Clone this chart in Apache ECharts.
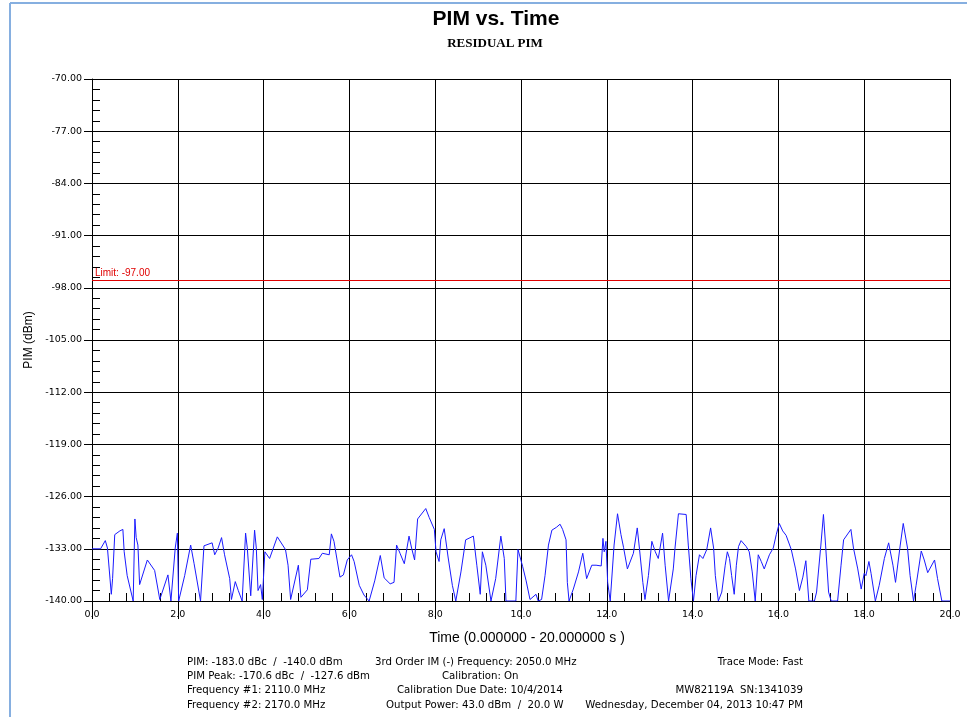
<!DOCTYPE html>
<html>
<head>
<meta charset="utf-8">
<script src="https://cdn.jsdelivr.net/npm/echarts@6/dist/echarts.min.js"></script>
<style>
  html, body { margin: 0; padding: 0; background: #ffffff; }
  #chart { width: 967px; height: 717px; }
</style>
</head>
<body>
<div id="chart"></div>
<script>
// Residual PIM trace, seconds vs dBm
const times = [
  0.00, 0.20, 0.31, 0.36, 0.45, 0.48, 0.53, 0.65, 0.72, 0.75, 0.82, 0.96, 1.00, 1.03, 1.07, 1.11,
  1.29, 1.46, 1.58, 1.77, 1.84, 1.94, 1.99, 2.02, 2.16, 2.30, 2.38, 2.53, 2.61, 2.80, 2.86, 2.94,
  3.02, 3.09, 3.21, 3.25, 3.34, 3.41, 3.50, 3.58, 3.62, 3.70, 3.79, 3.83, 3.87, 3.93, 3.97, 4.03,
  4.07, 4.14, 4.32, 4.51, 4.57, 4.63, 4.81, 4.87, 5.02, 5.10, 5.29, 5.37, 5.53, 5.58, 5.64, 5.78,
  5.86, 5.95, 6.05, 6.11, 6.23, 6.34, 6.46, 6.59, 6.72, 6.81, 6.95, 7.04, 7.10, 7.18, 7.28, 7.39,
  7.45, 7.52, 7.59, 7.78, 7.86, 7.98, 8.02, 8.09, 8.13, 8.21, 8.30, 8.40, 8.48, 8.60, 8.71, 8.89,
  8.97, 9.05, 9.10, 9.18, 9.30, 9.41, 9.53, 9.61, 9.65, 9.88, 9.93, 10.04, 10.12, 10.21, 10.35, 10.40,
  10.48, 10.56, 10.64, 10.72, 10.83, 10.91, 10.97, 11.05, 11.08, 11.12, 11.22, 11.34, 11.44, 11.53, 11.65, 11.75,
  11.87, 11.91, 11.94, 11.98, 12.02, 12.08, 12.17, 12.25, 12.33, 12.39, 12.48, 12.62, 12.71, 12.76, 12.84, 12.89,
  12.97, 13.05, 13.13, 13.20, 13.30, 13.36, 13.44, 13.55, 13.59, 13.67, 13.85, 13.90, 13.96, 14.02, 14.08, 14.16,
  14.24, 14.33, 14.42, 14.49, 14.53, 14.60, 14.68, 14.76, 14.81, 14.86, 14.91, 14.97, 15.02, 15.07, 15.13, 15.25,
  15.32, 15.39, 15.46, 15.53, 15.60, 15.67, 15.79, 15.88, 15.95, 16.02, 16.10, 16.18, 16.30, 16.40, 16.49, 16.57,
  16.64, 16.71, 16.84, 16.89, 16.99, 17.05, 17.10, 17.17, 17.23, 17.38, 17.46, 17.52, 17.69, 17.75, 17.85, 17.93,
  18.00, 18.04, 18.11, 18.16, 18.26, 18.35, 18.47, 18.57, 18.67, 18.73, 18.84, 18.91, 19.01, 19.07, 19.15, 19.21,
  19.33, 19.40, 19.48, 19.64, 19.71, 19.81, 20.00
];
const pimDbm = [
  -133.0, -133.0, -131.9, -132.9, -139.1, -137.0, -131.1, -130.6, -130.4, -133.4, -136.6, -140.0, -129.0, -131.5, -132.5, -137.8,
  -134.5, -135.9, -139.8, -136.5, -140.0, -132.9, -130.9, -140.0, -136.6, -132.5, -135.0, -140.0, -132.6, -132.2, -133.8, -132.9,
  -131.5, -133.8, -137.0, -139.8, -137.4, -138.6, -140.0, -130.9, -132.9, -139.3, -130.5, -132.9, -138.6, -137.8, -139.8, -133.4,
  -133.3, -134.3, -131.4, -133.1, -135.2, -139.8, -135.2, -139.5, -138.5, -134.4, -134.3, -133.6, -133.8, -131.0, -132.0, -136.8,
  -136.5, -134.5, -133.8, -134.7, -137.9, -139.2, -140.0, -137.3, -133.9, -136.9, -137.7, -137.5, -132.5, -133.6, -135.0, -131.3,
  -132.9, -134.5, -129.0, -127.6, -128.8, -130.4, -133.4, -134.7, -131.8, -130.3, -134.1, -137.9, -140.0, -136.1, -131.8, -131.3,
  -135.2, -139.1, -133.4, -135.2, -140.0, -137.0, -131.3, -134.3, -140.0, -140.0, -133.1, -135.4, -137.3, -139.8, -139.1, -140.0,
  -139.8, -136.6, -132.5, -130.5, -130.1, -129.7, -130.4, -131.8, -137.5, -140.0, -138.4, -136.1, -133.6, -137.0, -135.2, -135.2,
  -135.3, -131.6, -133.4, -132.0, -137.5, -140.0, -132.5, -128.3, -131.1, -132.8, -135.7, -133.6, -130.2, -132.9, -137.5, -139.8,
  -136.6, -132.0, -133.4, -134.3, -130.9, -135.2, -140.0, -135.7, -132.9, -128.3, -128.4, -132.5, -137.0, -140.0, -136.6, -133.8,
  -134.3, -133.1, -130.2, -132.9, -136.6, -140.0, -138.8, -135.2, -133.4, -134.3, -136.6, -139.1, -135.2, -132.7, -131.9, -132.7,
  -133.4, -136.1, -140.0, -133.8, -134.7, -135.7, -133.8, -132.9, -131.1, -129.6, -130.6, -131.2, -133.1, -135.7, -138.6, -136.8,
  -134.6, -140.0, -140.0, -138.8, -132.5, -128.4, -132.5, -138.8, -140.0, -140.0, -135.2, -131.8, -130.4, -132.9, -135.7, -138.4,
  -136.3, -136.6, -134.7, -136.3, -140.0, -137.9, -134.3, -132.2, -135.2, -137.5, -132.5, -129.6, -132.9, -136.6, -140.0, -137.9,
  -133.3, -134.5, -136.2, -134.5, -137.0, -140.0, -140.0
];
const limitDbm = -97.0;

// Measurement summary printed under the plot
const infoLeft = [
  'PIM: -183.0 dBc  /  -140.0 dBm',
  'PIM Peak: -170.6 dBc  /  -127.6 dBm',
  'Frequency #1: 2110.0 MHz',
  'Frequency #2: 2170.0 MHz'
];
const infoMiddle = [
  '3rd Order IM (-) Frequency: 2050.0 MHz',
  'Calibration: On',
  'Calibration Due Date: 10/4/2014',
  'Output Power: 43.0 dBm  /  20.0 W'
];
const infoRight = [
  'Trace Mode: Fast',
  '',
  'MW82119A  SN:1341039',
  'Wednesday, December 04, 2013 10:47 PM'
];

const FONT = '"Liberation Sans", Arial, sans-serif';
const SMALL = '"DejaVu Sans", Verdana, sans-serif';
const chart = echarts.init(document.getElementById('chart'));

const rowY = [662, 676, 690, 705];
const middleX = [375, 442, 397, 386];
const infoFont = '10.2px ' + SMALL;
const infoText = [];
rowY.forEach((y, i) => {
  infoText.push({ type: 'text', x: 187, y: y, style: { text: infoLeft[i], font: infoFont, fill: '#000', textVerticalAlign: 'middle' } });
  infoText.push({ type: 'text', x: middleX[i], y: y, style: { text: infoMiddle[i], font: infoFont, fill: '#000', textVerticalAlign: 'middle' } });
  if (infoRight[i]) {
    infoText.push({ type: 'text', x: 803, y: y, style: { text: infoRight[i], font: infoFont, fill: '#000', textAlign: 'right', textVerticalAlign: 'middle' } });
  }
});

const gridBox = { left: 92, right: 17, top: 79, bottom: 116 };

chart.setOption({
  animation: false,
  backgroundColor: '#ffffff',
  graphic: [
    { type: 'line', shape: { x1: 10, y1: 3, x2: 967, y2: 3 }, style: { stroke: '#86afe0', lineWidth: 2 } },
    { type: 'line', shape: { x1: 10, y1: 3, x2: 10, y2: 717 }, style: { stroke: '#86afe0', lineWidth: 2 } },
    { type: 'text', x: 496, y: 19, style: { text: 'PIM vs. Time', font: 'bold 21px ' + FONT, fill: '#000', textAlign: 'center', textVerticalAlign: 'middle' } },
    { type: 'text', x: 495, y: 44, style: { text: 'RESIDUAL PIM', font: 'bold 13px "Liberation Serif", "Times New Roman", serif', fill: '#000', textAlign: 'center', textVerticalAlign: 'middle' } },
    ...infoText
  ],
  grid: [
    Object.assign({}, gridBox),
    Object.assign({}, gridBox)
  ],
  xAxis: [
    {
      type: 'value', gridIndex: 0, min: 0, max: 20, interval: 2,
      name: 'Time (0.000000 - 20.000000 s )', nameLocation: 'middle', nameGap: 30,
      nameTextStyle: { fontFamily: FONT, fontSize: 14, color: '#000', padding: [0, 0, 0, 12] },
      axisLine: { show: true, lineStyle: { color: '#000', width: 1 } },
      axisTick: { show: true, inside: false, length: 18, lineStyle: { color: '#000' } },
      axisLabel: { show: true, margin: 9, color: '#000', fontFamily: SMALL, fontSize: 9.5, formatter: v => v.toFixed(1) },
      splitLine: { show: true, lineStyle: { color: '#000', width: 1 } }
    },
    {
      type: 'value', gridIndex: 1, min: 0, max: 20, interval: 0.4,
      axisLine: { show: false },
      axisTick: { show: true, inside: true, length: 8, lineStyle: { color: '#000' } },
      axisLabel: { show: false },
      splitLine: { show: false }
    }
  ],
  yAxis: [
    {
      type: 'value', gridIndex: 0, min: -140, max: -70, interval: 7,
      name: 'PIM (dBm)', nameLocation: 'middle', nameGap: 56, nameRotate: 90,
      nameTextStyle: { fontFamily: FONT, fontSize: 12, color: '#000' },
      axisLine: { show: true, lineStyle: { color: '#000', width: 1 } },
      axisTick: { show: true, inside: false, length: 8, lineStyle: { color: '#000' } },
      axisLabel: { show: true, margin: 10, color: '#000', fontFamily: SMALL, fontSize: 9.5, formatter: v => v.toFixed(2) },
      splitLine: { show: true, lineStyle: { color: '#000', width: 1 } }
    },
    {
      type: 'value', gridIndex: 1, min: -140, max: -70, interval: 1.4,
      axisLine: { show: false },
      axisTick: { show: true, inside: true, length: 8, lineStyle: { color: '#000' } },
      axisLabel: { show: false },
      splitLine: { show: false }
    }
  ],
  series: [
    {
      type: 'line', xAxisIndex: 0, yAxisIndex: 0,
      data: times.map((t, i) => [t, pimDbm[i]]),
      showSymbol: false, symbol: 'none',
      lineStyle: { color: '#1a1aff', width: 1 },
      markLine: {
        silent: true, symbol: 'none',
        lineStyle: { color: '#e00000', width: 1, type: 'solid' },
        label: {
          show: true, position: 'insideStartTop', distance: [3, 2],
          formatter: 'Limit: ' + limitDbm.toFixed(2),
          color: '#e00000', fontFamily: FONT, fontSize: 10
        },
        data: [{ yAxis: limitDbm }]
      }
    }
  ]
});
</script>
</body>
</html>
